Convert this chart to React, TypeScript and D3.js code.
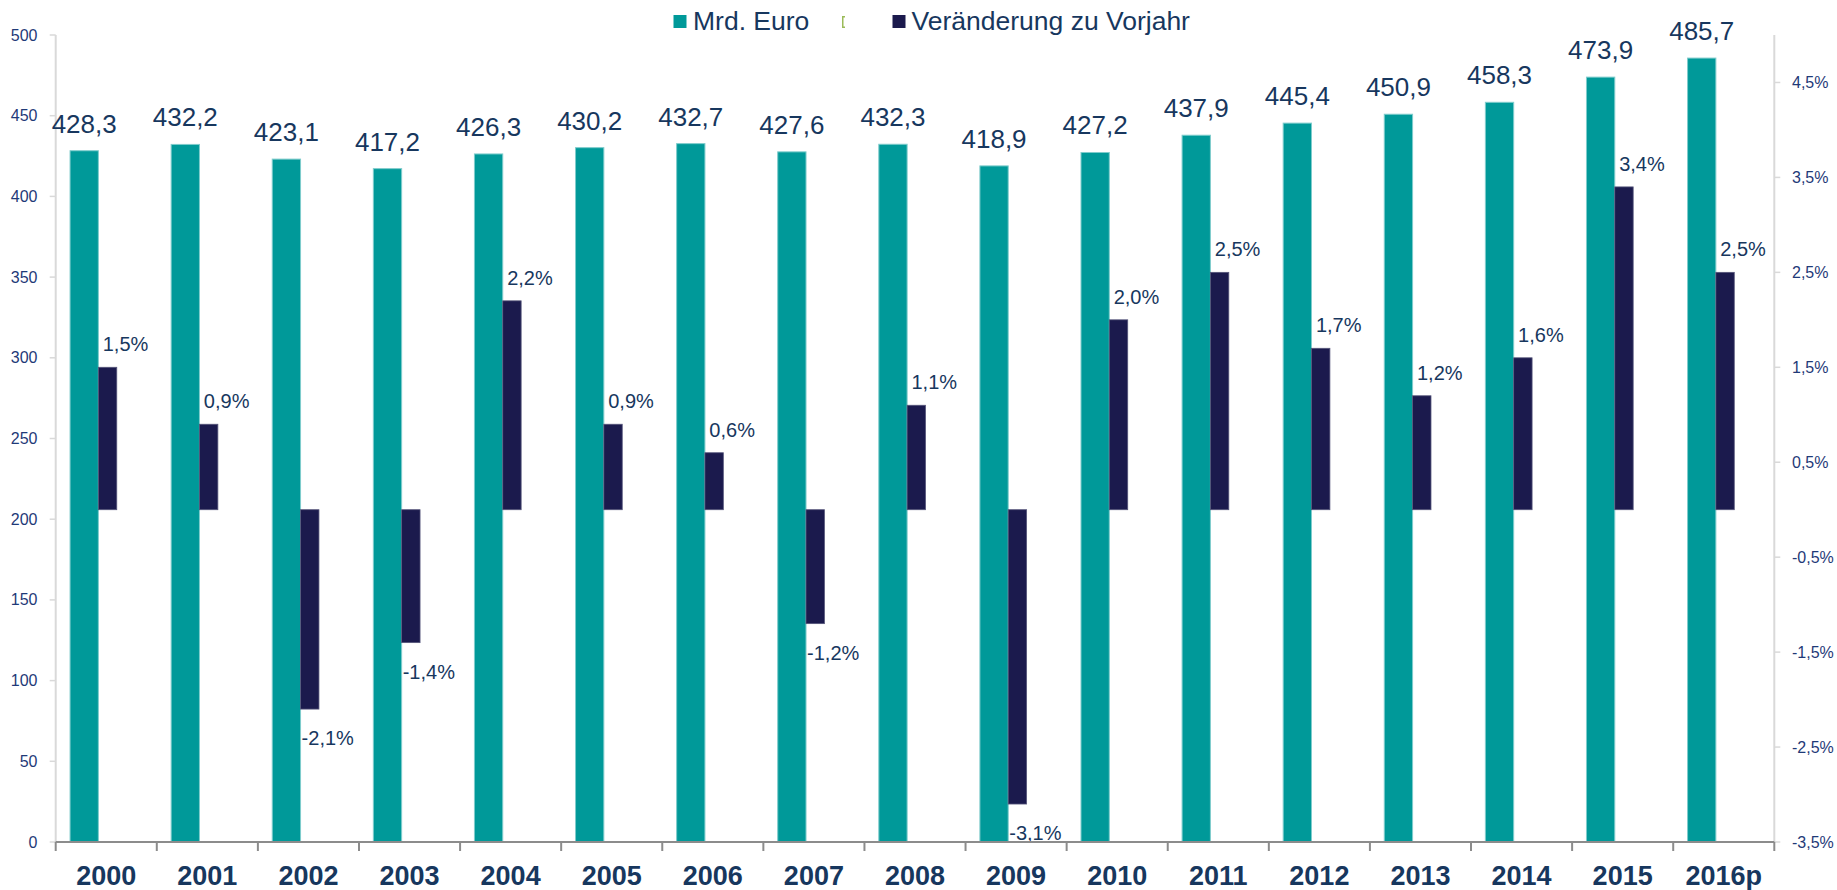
import React from "react";
import * as d3 from "d3";

const years = ["2000","2001","2002","2003","2004","2005","2006","2007","2008","2009","2010","2011","2012","2013","2014","2015","2016p"];
const mrdEuro = [428.3,432.2,423.1,417.2,426.3,430.2,432.7,427.6,432.3,418.9,427.2,437.9,445.4,450.9,458.3,473.9,485.7];
const change = [1.5,0.9,-2.1,-1.4,2.2,0.9,0.6,-1.2,1.1,-3.1,2.0,2.5,1.7,1.2,1.6,3.4,2.5];
const leftTicks = [0,50,100,150,200,250,300,350,400,450,500];
const rightTicks = [-3.5,-2.5,-1.5,-0.5,0.5,1.5,2.5,3.5,4.5];
const legendLabels = ["Mrd. Euro", "Veränderung zu Vorjahr"];

const W = 1837, H = 890;
const X0 = 55.7, X1 = 1774.3, Y0 = 842, Ytop = 35;
const TEAL = "#009999", DARK = "#1b1a4d", LABEL = "#17375e", TICK = "#1f3a78";
const FONT = "'Liberation Sans', Arial, sans-serif";

const fmt = (v: number, d = 1) => v.toFixed(d).replace(".", ",");

export default function App() {
  const x = d3.scaleBand<string>().domain(years).range([X0, X1]).padding(0);
  const bw = x.bandwidth();
  const yL = d3.scaleLinear().domain([0, 500]).range([Y0, Ytop]);
  const yR = d3.scaleLinear().domain([-3.5, 5.0]).range([Y0, Ytop]);
  const tealOff = 0.142 * bw, tealW = 0.28 * bw;
  const darkOff = tealOff + tealW, darkW = 0.182 * bw;

  return (
    <svg width={W} height={H} style={{ position: "absolute", left: 0, top: 0, background: "#fff" }} fontFamily={FONT}>
      {/* legend */}
      <g>
        <rect x={673.5} y={15} width={13} height={13} fill={TEAL} />
        <text x={693} y={29.5} fontSize={26.5} fill={LABEL}>{legendLabels[0]}</text>
        <path d="M842,16 h3 v1.5 h-1.5 v9 h1.5 v1.5 h-3 z" fill="#9bbb59" />
        <rect x={892.5} y={15} width={13} height={13} fill={DARK} />
        <text x={911.5} y={29.5} fontSize={26.5} fill={LABEL}>{legendLabels[1]}</text>
      </g>

      {/* axes lines */}
      <line x1={X0} x2={X0} y1={Ytop} y2={Y0} stroke="#d9d9d9" strokeWidth={2} />
      <line x1={X1} x2={X1} y1={Ytop} y2={Y0} stroke="#d9d9d9" strokeWidth={2} />

      {/* left ticks */}
      {leftTicks.map(t => (
        <g key={"l" + t}>
          <line x1={X0 - 6} x2={X0} y1={yL(t)} y2={yL(t)} stroke="#d9d9d9" strokeWidth={1.5} />
          <text x={37.5} y={yL(t) + 5.5} fontSize={16} textAnchor="end" fill={TICK}>{t}</text>
        </g>
      ))}
      {/* right ticks */}
      {rightTicks.map(t => (
        <g key={"r" + t}>
          <line x1={X1} x2={X1 + 6} y1={yR(t)} y2={yR(t)} stroke="#d9d9d9" strokeWidth={1.5} />
          <text x={1792} y={yR(t) + 5.5} fontSize={16} textAnchor="start" fill={TICK}>{fmt(t)}%</text>
        </g>
      ))}

      {/* bars */}
      {years.map((yr, i) => {
        const bx = x(yr)!;
        const v = mrdEuro[i];
        const c = change[i];
        const yT = yL(v);
        const yz = yR(0), yc = yR(c);
        const top = Math.min(yz, yc), h = Math.abs(yz - yc);
        const dCenter = bx + darkOff + darkW / 2;
        return (
          <g key={yr}>
            <rect x={bx + tealOff} y={yT} width={tealW} height={Y0 - yT} fill={TEAL} stroke="#7fcccc" strokeWidth={1} />
            <rect x={bx + darkOff} y={top} width={darkW} height={h} fill={DARK} stroke="#55557a" strokeWidth={0.8} />
            <text x={bx + tealOff + tealW / 2} y={yT - 18} fontSize={26} textAnchor="middle" fill={LABEL}>{fmt(v)}</text>
            <text x={dCenter + 18} y={c >= 0 ? yc - 16 : yc + 36} fontSize={20} textAnchor="middle" fill={LABEL}>{fmt(c)}%</text>
          </g>
        );
      })}

      {/* x axis */}
      <line x1={X0} x2={X1} y1={Y0} y2={Y0} stroke="#8c8c8c" strokeWidth={2} />
      {years.concat(["end"]).map((_, i) => (
        <line key={"xt" + i} x1={X0 + i * bw} x2={X0 + i * bw} y1={Y0} y2={Y0 + 9} stroke="#8c8c8c" strokeWidth={2} />
      ))}
      {years.map(yr => (
        <text key={"xl" + yr} x={x(yr)! + bw / 2} y={885} fontSize={27} fontWeight="bold" textAnchor="middle" fill={LABEL}>{yr}</text>
      ))}
    </svg>
  );
}
